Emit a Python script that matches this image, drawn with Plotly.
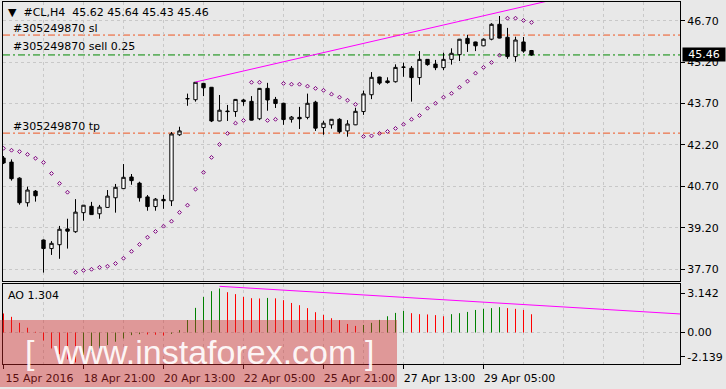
import plotly.graph_objects as go

# ---------------- data ----------------
bars = list(range(67))
open_ = [41.73, 41.58, 41.00, 40.11, 40.53, 38.76, 38.45, 38.59, 39.16, 39.06,
         39.75, 39.98, 39.71, 39.94, 40.29, 40.62, 41.04, 40.82, 40.32, 39.97,
         40.23, 40.18, 42.57, 43.87, 43.84, 44.43, 44.29, 43.07, 43.43, 43.41,
         43.83, 43.78, 43.15, 44.25, 43.85, 43.71, 43.13, 43.20, 43.20, 43.75,
         42.83, 42.93, 43.13, 42.71, 42.93, 43.41, 44.02, 44.66, 44.52, 44.49,
         45.01, 44.98, 44.64, 45.30, 45.13, 45.00, 45.30, 45.47, 46.06, 45.93,
         45.79, 46.03, 46.57, 46.10, 45.40, 45.93, 45.62]
high = [41.80, 41.68, 41.03, 40.69, 40.57, 38.78, 38.72, 39.27, 39.53, 40.24,
        40.03, 40.14, 40.03, 40.57, 40.79, 41.51, 41.15, 40.87, 40.39, 40.28,
        40.39, 42.67, 42.86, 44.06, 44.48, 44.44, 44.30, 44.01, 43.65, 43.86,
        43.87, 43.97, 44.26, 44.45, 43.94, 43.73, 43.25, 43.58, 44.06, 43.80,
        43.08, 43.14, 43.17, 43.10, 43.55, 44.17, 44.84, 44.67, 44.65, 45.12,
        45.18, 45.06, 45.60, 45.31, 45.28, 45.54, 45.70, 46.04, 46.19, 45.94,
        46.06, 46.61, 46.87, 46.44, 46.12, 46.11, 45.64]
low = [41.51, 40.91, 40.04, 39.97, 40.15, 37.58, 38.22, 38.08, 38.45, 39.02,
       39.46, 39.67, 39.53, 39.93, 39.75, 40.61, 40.76, 40.15, 39.82, 39.82,
       39.89, 39.99, 42.53, 43.62, 43.77, 43.97, 43.03, 43.06, 43.07, 43.22,
       43.62, 43.09, 43.10, 43.44, 43.54, 42.93, 43.01, 42.78, 43.13, 42.71,
       42.57, 42.79, 42.62, 42.50, 42.92, 43.29, 43.86, 44.38, 44.42, 44.46,
       44.67, 43.77, 44.38, 45.07, 44.91, 44.91, 45.11, 45.24, 45.57, 45.60,
       45.78, 45.99, 46.06, 45.32, 45.22, 45.54, 45.43]
close = [41.55, 40.98, 40.11, 40.57, 40.36, 38.45, 38.64, 39.15, 39.08, 39.77,
         40.02, 39.68, 39.95, 40.35, 40.67, 41.03, 40.91, 40.29, 39.97, 40.24,
         40.18, 42.60, 42.71, 43.88, 44.47, 44.27, 43.07, 43.46, 43.41, 43.85,
         43.77, 43.10, 44.25, 43.83, 43.70, 43.12, 43.21, 43.15, 43.71, 42.81,
         42.99, 43.13, 42.68, 42.96, 43.42, 44.05, 44.65, 44.44, 44.46, 45.01,
         45.02, 44.64, 45.30, 45.11, 45.00, 45.30, 45.52, 46.03, 45.87, 45.79,
         46.03, 46.57, 46.07, 45.40, 46.00, 45.60, 45.46]
sar = [42.08, 42.01, 41.96, 41.86, 41.72, 41.57, 41.17, 40.81, 40.49, 37.59,
       37.66, 37.70, 37.77, 37.81, 37.91, 38.10, 38.35, 38.60, 38.86, 39.07,
       39.26, 39.44, 39.76, 40.02, 40.60, 41.21, 41.75, 42.22, 42.62, 42.99,
       43.09, 44.47, 44.47, 43.09, 43.13, 44.43, 44.40, 44.40, 44.33, 44.25,
       44.18, 44.04, 43.93, 43.82, 43.67, 42.51, 42.53, 42.62, 42.69, 42.80,
       42.95, 43.13, 43.27, 43.53, 43.71, 43.93, 44.07, 44.29, 44.51, 44.80,
       45.01, 45.19, 45.45, 46.79, 46.79, 46.71, 46.64]
ao = [1.36, 1.12, 0.69, 0.34, 0.05, -0.57, -1.14, -1.55, -1.92, -2.139,
      -1.61, -1.38, -1.14, -0.90, -0.66, -0.43, -0.19, -0.12, -0.14, -0.16,
      -0.22, -0.10, 0.17, 0.89, 1.76, 2.54, 2.95, 3.142, 2.88, 2.74,
      2.54, 2.45, 2.43, 2.47, 2.44, 2.31, 2.11, 1.95, 1.74, 1.45,
      1.26, 1.02, 0.88, 0.61, 0.47, 0.54, 0.69, 0.90, 1.16, 1.40,
      1.54, 1.38, 1.31, 1.29, 1.24, 1.16, 1.31, 1.38, 1.47, 1.61,
      1.69, 1.74, 1.81, 1.74, 1.69, 1.61, 1.304]

sl_level = 46.18
entry_level = 45.46
tp_level = 42.63
trend_x = [24, 68]
trend_y = [44.48, 47.41]
ao_trend_x = [27, 85]
ao_trend_y = [3.30, 1.31]

price_ticks = [37.70, 39.20, 40.70, 42.20, 43.70, 45.20, 46.70]
time_ticks = [0, 10, 20, 30, 40, 50, 60]
time_labels = ["15 Apr 2016", "18 Apr 21:00", "20 Apr 13:00", "22 Apr 05:00",
               "25 Apr 21:00", "27 Apr 13:00", "29 Apr 05:00"]
ao_labels = ["3.142", "0.00", "-2.139"]
title_text = "▼  #CL,H4  45.62 45.64 45.43 45.46"
sl_text = "#305249870 sl"
sell_text = "#305249870 sell 0.25"
tp_text = "#305249870 tp"
ao_text = "AO 1.304"

# ---------------- layout helpers ----------------
W, H = 726, 389
ML, MR, MT, MB = 3, 46, 2, 25
PW, PH = W - ML - MR, H - MT - MB


def px_x(x):
    return (x - ML) / PW


def px_y(y):
    return (H - MB - y) / PH


BG = "#E8E8E8"
GRID = "#C8C8C8"
FONT = "DejaVu Sans"

fig = go.Figure()

fig.add_trace(go.Candlestick(
    x=bars, open=open_, high=high, low=low, close=close,
    increasing=dict(line=dict(color="black", width=1), fillcolor="white"),
    decreasing=dict(line=dict(color="black", width=1), fillcolor="black"),
    whiskerwidth=0, showlegend=False, hoverinfo="skip",
    xaxis="x", yaxis="y"))

fig.add_trace(go.Scatter(
    x=bars, y=sar, mode="markers",
    marker=dict(symbol="diamond-open", size=3, color="#800080",
                line=dict(width=1, color="#800080")),
    showlegend=False, hoverinfo="skip", xaxis="x", yaxis="y"))

fig.add_trace(go.Scatter(
    x=trend_x, y=trend_y, mode="lines",
    line=dict(color="#FF00FF", width=1),
    showlegend=False, hoverinfo="skip", xaxis="x", yaxis="y"))

# AO histogram as thin vertical lines
gx, gy, rx, ry = [], [], [], []
for i, v in enumerate(ao):
    up = i > 0 and v > ao[i - 1]
    if up:
        gx += [bars[i], bars[i], None]
        gy += [0, v, None]
    else:
        rx += [bars[i], bars[i], None]
        ry += [0, v, None]

fig.add_trace(go.Scatter(x=gx, y=gy, mode="lines",
                         line=dict(color="#008000", width=1),
                         showlegend=False, hoverinfo="skip",
                         xaxis="x2", yaxis="y2"))
fig.add_trace(go.Scatter(x=rx, y=ry, mode="lines",
                         line=dict(color="#FF0000", width=1),
                         showlegend=False, hoverinfo="skip",
                         xaxis="x2", yaxis="y2"))
fig.add_trace(go.Scatter(x=ao_trend_x, y=ao_trend_y, mode="lines",
                         line=dict(color="#FF00FF", width=1),
                         showlegend=False, hoverinfo="skip",
                         xaxis="x2", yaxis="y2"))

xrange_ = [-0.0625, PW / 8 - 0.0625]
main_dom = [px_y(281), 1]
ao_dom = [0, px_y(283.5)]
ao_range = [-2.25, 3.5]
ao_tick_pos = [2.80, 0, -1.73]
grid_all = list(range(0, 85, 5))
grid_minor = [v for v in grid_all if v not in time_ticks]

axis_common = dict(showline=True, linecolor="black", linewidth=1, mirror=True,
                   zeroline=False)

fig.update_layout(
    width=W, height=H,
    margin=dict(l=ML, r=MR, t=MT, b=MB, pad=0),
    paper_bgcolor=BG, plot_bgcolor=BG,
    font=dict(family=FONT, size=11, color="black"),
    showlegend=False,
    boxgap=0.4,
    xaxis=dict(domain=[0, 1], range=xrange_, anchor="y",
               tickmode="array", tickvals=grid_all, showticklabels=False,
               ticks="", showgrid=True, gridcolor=GRID, griddash="3px,3px",
               gridwidth=1, rangeslider=dict(visible=False), **axis_common),
    yaxis=dict(domain=main_dom, range=[37.276, 47.377], anchor="x", side="right",
               tickmode="array", tickvals=price_ticks,
               ticktext=[f"{v:.2f}" for v in price_ticks],
               ticks="outside", ticklen=4, tickcolor="black",
               showgrid=True, gridcolor=GRID, griddash="3px,3px",
               tickfont=dict(family=FONT, size=11, color="black"),
               **axis_common),
    xaxis2=dict(domain=[0, 1], range=xrange_, anchor="y2", matches="x",
                tickmode="array", tickvals=time_ticks, ticktext=time_labels,
                ticks="outside", ticklen=4, tickcolor="black",
                ticklabelshift=36,
                tickfont=dict(family=FONT, size=11, color="black"),
                showgrid=True, gridcolor=GRID, griddash="3px,3px",
                minor=dict(tickmode="array", tickvals=grid_minor, ticks="",
                           showgrid=True, gridcolor=GRID, griddash="3px,3px"),
                **axis_common),
    yaxis2=dict(domain=ao_dom, range=ao_range, anchor="x2", side="right",
                tickmode="array", tickvals=ao_tick_pos, ticktext=ao_labels,
                ticks="outside", ticklen=4, tickcolor="black",
                showgrid=False,
                tickfont=dict(family=FONT, size=11, color="black"),
                **axis_common),
)

dashdot = "7px,3px,2px,3px"
shapes = [
    dict(type="line", xref="x domain", yref="y", x0=0, x1=1,
         y0=sl_level, y1=sl_level, line=dict(color="#EE5522", width=1, dash=dashdot),
         layer="below"),
    dict(type="line", xref="x domain", yref="y", x0=0, x1=1,
         y0=entry_level, y1=entry_level, line=dict(color="#008800", width=1, dash=dashdot),
         layer="below"),
    dict(type="line", xref="x domain", yref="y", x0=0, x1=1,
         y0=tp_level, y1=tp_level, line=dict(color="#EE5522", width=1, dash=dashdot),
         layer="below"),
    dict(type="line", xref="x2 domain", yref="y2", x0=0, x1=1, y0=0, y1=0,
         line=dict(color=GRID, width=1, dash="3px,3px"), layer="below"),
    # watermark band
    dict(type="rect", xref="paper", yref="paper",
         x0=px_x(0), x1=px_x(397), y0=px_y(387), y1=px_y(320),
         fillcolor="rgba(212,40,40,0.41)", line=dict(width=0), layer="above"),
]
fig.update_layout(shapes=shapes)

ann = []


def label(text, x, y, size=11, color="black", family=FONT, **kw):
    ann.append(dict(text=text, xref="paper", yref="paper", x=px_x(x), y=px_y(y),
                    xanchor="left", yanchor="middle", showarrow=False,
                    font=dict(family=family, size=size, color=color), **kw))


label(title_text, 6, 12)
label(sl_text, 11, 28.5)
label(sell_text, 11, 47)
label(tp_text, 11, 126.5)
label(ao_text, 6, 295.5)
label("[", 23, 352, size=34, color="rgba(255,255,255,0.92)", family="Liberation Sans")
label("www.instaforex.com", 51, 352, size=34, color="rgba(255,255,255,0.92)",
      family="Liberation Sans")
label("]", 363, 352, size=34, color="rgba(255,255,255,0.92)", family="Liberation Sans")

ann.append(dict(text=f"{entry_level:.2f}", xref="paper", yref="y", x=1, y=entry_level,
                xanchor="left", yanchor="middle", xshift=1.5, showarrow=False,
                bgcolor="black", width=42, height=13, borderpad=0,
                font=dict(family=FONT, size=11, color="white")))
fig.update_layout(annotations=ann)

fig.write_html("out.html")
